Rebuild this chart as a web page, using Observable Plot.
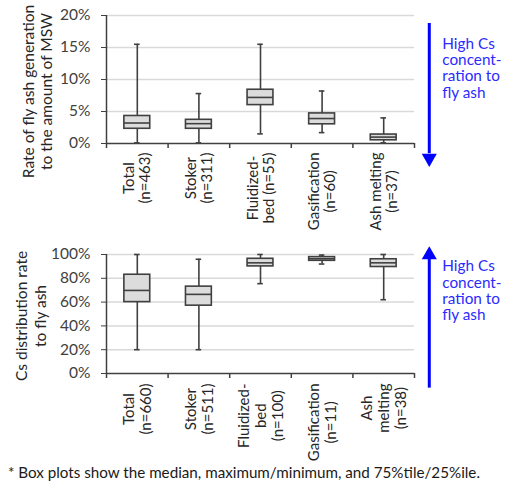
<!DOCTYPE html>
<html>
<head>
<meta charset="utf-8">
<script src="https://cdn.jsdelivr.net/npm/d3@7"></script>
<script src="https://cdn.jsdelivr.net/npm/@observablehq/plot@0.6"></script>
<style>
  html, body { margin: 0; padding: 0; background: #fff; }
  #root { position: relative; width: 510px; height: 489px; background: #fff; font-family: Lato, "Open Sans", sans-serif; }
  #top { position: absolute; left: 0; top: 0; }
  #bot { position: absolute; left: 0; top: 240px; }
  #note { position: absolute; left: 8px; top: 463px; font-size: 15.2px; color: #1a1a1a; white-space: nowrap; }
</style>
</head>
<body>
<div id="root">
  <div id="top"></div>
  <div id="bot"></div>
  <div id="note">* Box plots show the median, maximum/minimum, and 75%tile/25%ile.</div>
</div>
<script>
// ---- Panel 1: rate of fly ash generation (% of MSW) ----
const topLabels = ["Total\n(n=463)", "Stoker\n(n=311)", "Fluidized-\nbed (n=55)", "Gasification\n(n=60)", "Ash melting\n(n=37)"];
const topMin = [0.1, 0.1, 1.5, 1.7, 0.1];
const topQ1  = [2.3, 2.3, 6.0, 3.0, 0.5];
const topMed = [3.2, 3.1, 7.2, 3.9, 1.0];
const topQ3  = [4.3, 3.7, 8.4, 4.7, 1.4];
const topMax = [15.5, 7.8, 15.5, 8.2, 4.0];
const topTicks = [0, 5, 10, 15, 20];
const topTitle = "Rate of fly ash generation\nto the amount of MSW";

// ---- Panel 2: Cs distribution rate to fly ash (%) ----
const botLabels = ["Total\n(n=660)", "Stoker\n(n=511)", "Fluidized-\nbed\n(n=100)", "Gasification\n(n=11)", "Ash\nmelting\n(n=38)"];
const botMin = [20, 20, 75.5, 92, 62];
const botQ1  = [60, 57, 90, 94.7, 89.5];
const botMed = [69.8, 66.5, 93, 96.4, 93];
const botQ3  = [83, 73, 96.4, 97.8, 96];
const botMax = [100, 96, 100, 99.5, 100];
const botTicks = [0, 20, 40, 60, 80, 100];
const botTitle = "Cs distribution rate\nto fly ash";

const noteText = "High Cs\nconcent-\nration to\nfly ash";

const FONT = "Lato, 'Open Sans', sans-serif";
const INK = "#404040";
const BLUE = "#2b2bff";

const ctx = document.createElement("canvas").getContext("2d");
function textLen(s, fs) {
  ctx.font = `${fs}px Lato`;
  return Math.max(...s.split("\n").map(l => ctx.measureText(l).width));
}

function panel(cfg) {
  const rows = cfg.labels.map((_, i) => ({
    i, min: cfg.mins[i], q1: cfg.q1s[i], med: cfg.meds[i], q3: cfg.q3s[i], max: cfg.maxs[i]
  }));
  const half = 0.21, cap = 0.045;
  const lblFs = 15;
  const labelMarks = cfg.labels.map((lab, i) =>
    Plot.text([{i, lab}], {
      x: "i", text: "lab", frameAnchor: "bottom",
      dy: cfg.labelGap + textLen(lab, lblFs) / 2,
      rotate: -90, textAnchor: "middle", lineAnchor: "middle",
      lineHeight: cfg.labelLH, fontSize: lblFs, fill: "#262626"
    })
  );
  const arrowX = 4.74;
  return Plot.plot({
    width: 510, height: cfg.height,
    marginLeft: 106, marginRight: 96, marginTop: cfg.marginTop, marginBottom: cfg.marginBottom,
    x: {domain: [-0.5, 4.5], axis: null},
    y: {domain: [cfg.ticks[0], cfg.ticks[cfg.ticks.length - 1]], axis: null},
    style: {fontFamily: FONT, background: "transparent", overflow: "visible"},
    marks: [
      Plot.gridY({ticks: cfg.ticks.slice(1), stroke: "#d9d9d9", strokeOpacity: 1, strokeWidth: 1.5}),
      Plot.axisY({ticks: cfg.ticks, tickSize: 5, tickPadding: 11, tickFormat: d => d + "%",
        fontSize: 15.5, color: INK, label: null}),
      Plot.axisX({ticks: [-0.5, 0.5, 1.5, 2.5, 3.5, 4.5], tickSize: 5, tickFormat: () => "",
        stroke: INK, strokeWidth: 1.5, label: null}),
      Plot.ruleX([-0.5], {stroke: INK, strokeWidth: 1.5}),
      Plot.ruleY([cfg.ticks[0]], {stroke: INK, strokeWidth: 1.5}),
      Plot.ruleX(rows, {x: "i", y1: "min", y2: "max", stroke: INK, strokeWidth: 1.6}),
      Plot.ruleY(rows, {y: "min", x1: d => d.i - cap, x2: d => d.i + cap, stroke: INK, strokeWidth: 1.6}),
      Plot.ruleY(rows, {y: "max", x1: d => d.i - cap, x2: d => d.i + cap, stroke: INK, strokeWidth: 1.6}),
      Plot.rect(rows, {x1: d => d.i - half, x2: d => d.i + half, y1: "q1", y2: "q3",
        fill: "#dcdcdc", stroke: INK, strokeWidth: 1.6}),
      Plot.ruleY(rows, {y: "med", x1: d => d.i - half, x2: d => d.i + half, stroke: INK, strokeWidth: 1.6}),
      ...labelMarks,
      Plot.text([cfg.title], {frameAnchor: "left", dx: cfg.titleDx, dy: cfg.titleDy, rotate: -90,
        textAnchor: "middle", lineAnchor: "middle", lineHeight: 1.2, fontSize: 15.5, fill: "#262626"}),
      Plot.ruleX([arrowX], {y1: cfg.shaft[0], y2: cfg.shaft[1], stroke: "#0000ff", strokeWidth: 3}),
      Plot.dot([{x: arrowX, y: cfg.head}], {x: "x", y: "y", symbol: "triangle", r: 5.6,
        rotate: cfg.headRot, fill: "#0000ff", stroke: "none"}),
      Plot.text([noteText], {x: [arrowX], y: [cfg.noteY], dx: 13, textAnchor: "start",
        lineAnchor: "middle", lineHeight: 1.07, fontSize: 15.3, fill: BLUE})
    ]
  });
}

document.getElementById("top").append(panel({
  labels: topLabels, mins: topMin, q1s: topQ1, meds: topMed, q3s: topQ3, maxs: topMax,
  ticks: topTicks, title: topTitle, height: 240, marginTop: 15, marginBottom: 97,
  labelGap: 9, labelLH: 1.07, titleDx: -69.5, titleDy: 12,
  shaft: [18.75, -1.6], head: -2.3, headRot: 180, noteY: 11.8
}));

document.getElementById("bot").append(panel({
  labels: botLabels, mins: botMin, q1s: botQ1, meds: botMed, q3s: botQ3, maxs: botMax,
  ticks: botTicks, title: botTitle, height: 223, marginTop: 14, marginBottom: 90,
  labelGap: 10, labelLH: 1.12, titleDx: -76, titleDy: 2,
  shaft: [-12.3, 96], head: 99.7, headRot: 0, noteY: 69.8
}));
</script>
</body>
</html>
